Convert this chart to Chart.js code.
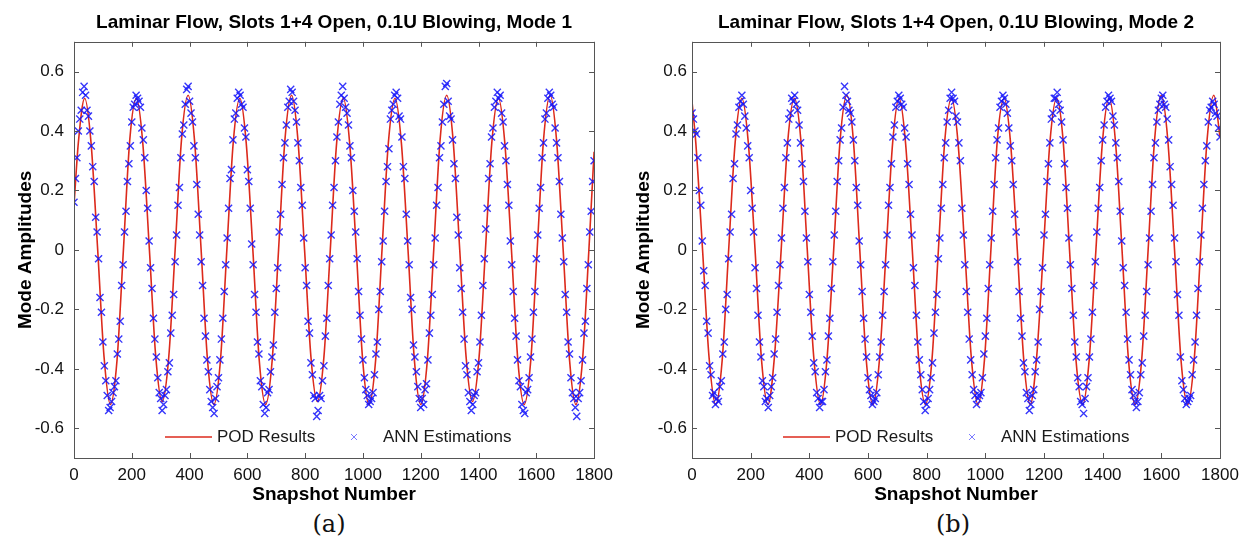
<!DOCTYPE html>
<html lang="en">
<head>
<meta charset="UTF-8">
<title>Laminar Flow, Slots 1+4 Open, 0.1U Blowing</title>
<style>
  body { margin: 0; background: #fff; }
  #wrap { position: relative; width: 1251px; height: 541px; overflow: hidden; }
  .panel { position: absolute; top: 0; height: 510px; }
  #panelA { left: 0; width: 620px; }
  #panelB { left: 620px; width: 631px; }
  .cap { position: absolute; top: 510px; line-height: 28px; font-family: "DejaVu Serif", serif; font-size: 24px; color: #111; transform: translateX(-50%); }
</style>
</head>
<body>
<div id="wrap">
  <div class="panel" id="panelA"><canvas id="chartA"></canvas></div>
  <div class="panel" id="panelB"><canvas id="chartB"></canvas></div>
  <div class="cap" style="left:329px">(a)</div>
  <div class="cap" style="left:953px">(b)</div>
</div>
<script src="https://cdn.jsdelivr.net/npm/chart.js"></script>
<script>
// axis ticks
const xTicks = [0, 200, 400, 600, 800, 1000, 1200, 1400, 1600, 1800];
const yTicks = [-0.6, -0.4, -0.2, 0, 0.2, 0.4, 0.6];
const annStep = 5; // ANN estimations read every 5th snapshot

// Mode 1 - POD result curve (snapshot, amplitude)
const podSnapA = [0, 15, 37, 59, 82, 104, 126, 149, 171, 193, 216, 238, 261, 283, 305, 328, 350, 372,
  395, 417, 440, 462, 484, 507, 529, 551, 574, 596, 619, 641, 663, 686, 708, 730,
  753, 775, 798, 820, 842, 865, 887, 909, 932, 954, 977, 999, 1021, 1044, 1066, 1088,
  1111, 1133, 1156, 1178, 1200, 1223, 1245, 1267, 1290, 1312, 1335, 1357, 1379, 1402, 1424, 1446,
  1469, 1491, 1514, 1536, 1558, 1581, 1603, 1625, 1648, 1670, 1693, 1715, 1737, 1760, 1782, 1800];
const podValA = [0.15, 0.36,
  0.51, 0.36, 0, -0.36, -0.52, -0.37, 0, 0.37,
  0.51, 0.36, 0, -0.36, -0.51, -0.36, 0, 0.37,
  0.52, 0.37, 0, -0.37, -0.52, -0.37, 0, 0.36,
  0.51, 0.36, 0, -0.37, -0.52, -0.37, 0, 0.37,
  0.52, 0.37, 0, -0.36, -0.51, -0.36, 0, 0.36,
  0.51, 0.36, 0, -0.37, -0.52, -0.37, 0, 0.36,
  0.51, 0.36, 0, -0.37, -0.52, -0.37, 0, 0.37,
  0.52, 0.37, 0, -0.36, -0.51, -0.36, 0, 0.36,
  0.51, 0.36, 0, -0.37, -0.52, -0.37, 0, 0.37,
  0.52, 0.37, 0, -0.37, -0.52, -0.37, 0, 0.33];

// Mode 1 - ANN estimations, snapshots 0, 5, 10 ... 1800
const annValA = [
  0.16, 0.24, 0.31, 0.40, 0.44, 0.47, 0.53, 0.55, 0.52, 0.47, 0.45, 0.40, 0.35, 0.28, 0.23, 0.11, 0.06, -0.03, -0.16, -0.21, -0.31, -0.39, -0.44, -0.49, -0.54, -0.53, -0.51, -0.48, -0.46, -0.44, -0.35, -0.30, -0.24, -0.12, -0.05, 0.06,
  0.13, 0.23, 0.29, 0.35, 0.43, 0.48, 0.49, 0.52, 0.51, 0.50, 0.48, 0.41, 0.37, 0.31, 0.20, 0.14, 0.03, -0.06, -0.13, -0.23, -0.30, -0.36, -0.43, -0.48, -0.50, -0.54, -0.52, -0.49, -0.47, -0.41, -0.38, -0.28, -0.22, -0.15, -0.04, 0.05,
  0.15, 0.21, 0.31, 0.39, 0.42, 0.49, 0.54, 0.55, 0.50, 0.46, 0.43, 0.35, 0.31, 0.22, 0.12, 0.05, -0.04, -0.12, -0.23, -0.29, -0.37, -0.41, -0.47, -0.51, -0.53, -0.55, -0.50, -0.46, -0.43, -0.37, -0.30, -0.23, -0.14, -0.05, 0.04, 0.14,
  0.24, 0.27, 0.37, 0.44, 0.46, 0.51, 0.53, 0.52, 0.49, 0.48, 0.41, 0.38, 0.27, 0.23, 0.14, 0.02, -0.05, -0.15, -0.21, -0.31, -0.35, -0.44, -0.46, -0.52, -0.55, -0.53, -0.48, -0.47, -0.41, -0.36, -0.32, -0.21, -0.13, -0.06, 0.06, 0.12,
  0.22, 0.31, 0.36, 0.42, 0.48, 0.50, 0.54, 0.53, 0.50, 0.47, 0.43, 0.36, 0.30, 0.21, 0.15, 0.04, -0.06, -0.12, -0.24, -0.28, -0.38, -0.42, -0.49, -0.50, -0.56, -0.54, -0.49, -0.50, -0.44, -0.39, -0.29, -0.23, -0.12, -0.03, 0.05, 0.15,
  0.21, 0.30, 0.38, 0.43, 0.49, 0.52, 0.55, 0.51, 0.48, 0.46, 0.42, 0.35, 0.31, 0.20, 0.13, 0.06, -0.03, -0.14, -0.22, -0.30, -0.37, -0.43, -0.47, -0.49, -0.52, -0.51, -0.50, -0.48, -0.42, -0.35, -0.31, -0.20, -0.14, -0.04, 0.03, 0.13,
  0.23, 0.28, 0.34, 0.44, 0.47, 0.49, 0.52, 0.53, 0.51, 0.45, 0.44, 0.38, 0.28, 0.24, 0.12, 0.03, -0.05, -0.16, -0.20, -0.32, -0.36, -0.41, -0.46, -0.50, -0.53, -0.50, -0.52, -0.47, -0.45, -0.37, -0.28, -0.22, -0.15, -0.05, 0.04, 0.15,
  0.21, 0.31, 0.35, 0.43, 0.49, 0.55, 0.56, 0.50, 0.45, 0.44, 0.37, 0.29, 0.24, 0.11, 0.05, -0.06, -0.13, -0.21, -0.30, -0.39, -0.42, -0.48, -0.51, -0.54, -0.52, -0.49, -0.48, -0.41, -0.38, -0.31, -0.22, -0.12, -0.03, 0.07, 0.14, 0.24,
  0.29, 0.38, 0.41, 0.48, 0.50, 0.53, 0.51, 0.52, 0.46, 0.43, 0.35, 0.30, 0.22, 0.15, 0.03, -0.05, -0.14, -0.23, -0.29, -0.37, -0.44, -0.46, -0.52, -0.54, -0.55, -0.48, -0.47, -0.43, -0.36, -0.30, -0.21, -0.14, -0.03, 0.05, 0.14, 0.21,
  0.31, 0.36, 0.44, 0.46, 0.51, 0.53, 0.52, 0.49, 0.48, 0.41, 0.36, 0.31, 0.23, 0.12, 0.04, -0.04, -0.15, -0.21, -0.31, -0.35, -0.43, -0.48, -0.50, -0.53, -0.56, -0.50, -0.48, -0.44, -0.37, -0.28, -0.24, -0.13, -0.05, 0.06, 0.13, 0.23,
  0.30];

// Mode 2 - POD result curve
const podSnapB = [0, 13, 36, 58, 81, 103, 125, 147, 170, 192, 215, 237, 259, 281, 304, 326, 349, 371,
  393, 415, 438, 460, 483, 505, 528, 550, 572, 594, 617, 639, 662, 684, 706, 728,
  751, 773, 796, 818, 840, 862, 885, 907, 930, 952, 975, 997, 1019, 1041, 1064, 1086,
  1109, 1131, 1153, 1175, 1198, 1220, 1243, 1265, 1287, 1309, 1332, 1354, 1377, 1399, 1422, 1444,
  1466, 1488, 1511, 1533, 1555, 1577, 1600, 1622, 1645, 1667, 1690, 1712, 1734, 1756, 1779, 1800];
const podValB = [0.50, 0.36,
  0, -0.36, -0.52, -0.37, 0, 0.36, 0.51, 0.36,
  0, -0.37, -0.52, -0.36, 0, 0.36, 0.51, 0.37,
  0, -0.36, -0.52, -0.37, 0, 0.37, 0.52, 0.37,
  0, -0.37, -0.52, -0.37, 0, 0.36, 0.51, 0.36,
  0, -0.37, -0.52, -0.37, 0, 0.37, 0.51, 0.36,
  0, -0.36, -0.52, -0.37, 0, 0.37, 0.51, 0.36,
  0, -0.37, -0.52, -0.36, 0, 0.36, 0.51, 0.37,
  0, -0.37, -0.52, -0.37, 0, 0.36, 0.51, 0.36,
  0, -0.37, -0.52, -0.37, 0, 0.37, 0.52, 0.37,
  0, -0.37, -0.52, -0.37, 0, 0.37, 0.52, 0.38];

// Mode 2 - ANN estimations, snapshots 0, 5, 10 ... 1800
const annValB = [
  0.46, 0.44, 0.40, 0.39, 0.31, 0.20, 0.15, 0.03, -0.07, -0.12, -0.24, -0.28, -0.39, -0.42, -0.49, -0.48, -0.52, -0.50, -0.51, -0.46, -0.44, -0.35, -0.31, -0.20, -0.15, -0.03, 0.06, 0.12, 0.24, 0.29, 0.39, 0.42, 0.48, 0.50, 0.52, 0.49,
  0.45, 0.41, 0.35, 0.31, 0.20, 0.14, 0.06, -0.06, -0.13, -0.22, -0.31, -0.36, -0.44, -0.46, -0.51, -0.50, -0.53, -0.49, -0.46, -0.43, -0.35, -0.30, -0.21, -0.12, -0.05, 0.04, 0.14, 0.21, 0.31, 0.36, 0.44, 0.46, 0.51, 0.50, 0.52, 0.49,
  0.47, 0.42, 0.36, 0.29, 0.23, 0.13, 0.04, -0.04, -0.15, -0.21, -0.29, -0.38, -0.41, -0.48, -0.50, -0.53, -0.51, -0.51, -0.47, -0.41, -0.37, -0.29, -0.23, -0.13, -0.04, 0.05, 0.13, 0.23, 0.30, 0.37, 0.41, 0.48, 0.55, 0.52, 0.50, 0.47,
  0.46, 0.43, 0.37, 0.30, 0.21, 0.15, 0.03, -0.05, -0.14, -0.23, -0.30, -0.36, -0.43, -0.47, -0.49, -0.52, -0.51, -0.50, -0.48, -0.42, -0.36, -0.31, -0.22, -0.14, -0.05, 0.05, 0.15, 0.21, 0.29, 0.38, 0.42, 0.48, 0.50, 0.52, 0.51, 0.49,
  0.48, 0.41, 0.38, 0.29, 0.22, 0.12, 0.05, -0.06, -0.12, -0.22, -0.31, -0.37, -0.42, -0.47, -0.51, -0.54, -0.52, -0.50, -0.47, -0.43, -0.38, -0.28, -0.21, -0.15, -0.03, 0.04, 0.14, 0.22, 0.31, 0.36, 0.43, 0.47, 0.51, 0.53, 0.51, 0.50,
  0.45, 0.43, 0.36, 0.30, 0.14, 0.05, -0.05, -0.14, -0.21, -0.30, -0.37, -0.42, -0.47, -0.49, -0.52, -0.50, -0.49, -0.48, -0.43, -0.35, -0.29, -0.23, -0.13, -0.05, 0.04, 0.13, 0.22, 0.31, 0.37, 0.41, 0.48, 0.50, 0.52, 0.51, 0.49, 0.46,
  0.41, 0.35, 0.30, 0.22, 0.12, 0.06, -0.04, -0.14, -0.23, -0.29, -0.38, -0.41, -0.48, -0.50, -0.54, -0.52, -0.49, -0.47, -0.41, -0.37, -0.31, -0.20, -0.14, -0.06, 0.05, 0.12, 0.23, 0.29, 0.36, 0.44, 0.46, 0.51, 0.51, 0.53, 0.49, 0.47,
  0.43, 0.37, 0.29, 0.21, 0.14, 0.04, -0.05, -0.13, -0.22, -0.31, -0.36, -0.43, -0.46, -0.51, -0.52, -0.55, -0.50, -0.46, -0.43, -0.36, -0.30, -0.21, -0.12, -0.04, 0.06, 0.14, 0.21, 0.30, 0.37, 0.42, 0.48, 0.50, 0.52, 0.51, 0.50, 0.45,
  0.42, 0.36, 0.31, 0.23, 0.13, 0.03, -0.06, -0.12, -0.21, -0.30, -0.37, -0.42, -0.47, -0.49, -0.51, -0.53, -0.51, -0.48, -0.42, -0.38, -0.29, -0.22, -0.14, -0.05, 0.04, 0.13, 0.22, 0.31, 0.36, 0.43, 0.47, 0.49, 0.51, 0.52, 0.49, 0.48,
  0.44, 0.37, 0.28, 0.22, 0.15, 0.04, -0.04, -0.15, -0.22, -0.36, -0.44, -0.47, -0.50, -0.52, -0.51, -0.50, -0.49, -0.42, -0.37, -0.31, -0.22, -0.13, -0.04, 0.05, 0.14, 0.22, 0.30, 0.35, 0.43, 0.47, 0.48, 0.50, 0.49, 0.46, 0.45, 0.41,
  0.38];

Chart.defaults.font.family = '"Liberation Sans", Arial, Helvetica, sans-serif';
Chart.defaults.color = '#111';

// MATLAB-like box with inward ticks, plus the legend inside the axes
const matlabAxes = {
  id: 'matlabAxes',
  afterDatasetsDraw(chart) {
    const { ctx, chartArea: a, scales: { x, y } } = chart;
    ctx.save();
    ctx.strokeStyle = '#555';
    ctx.lineWidth = 1;
    ctx.beginPath();
    xTicks.forEach(v => {
      const px = Math.round(x.getPixelForValue(v)) + 0.5;
      ctx.moveTo(px, a.bottom); ctx.lineTo(px, a.bottom - 5);
      ctx.moveTo(px, a.top); ctx.lineTo(px, a.top + 5);
    });
    yTicks.forEach(v => {
      const py = Math.round(y.getPixelForValue(v)) + 0.5;
      ctx.moveTo(a.left, py); ctx.lineTo(a.left + 5, py);
      ctx.moveTo(a.right, py); ctx.lineTo(a.right - 5, py);
    });
    ctx.stroke();
    ctx.strokeRect(Math.round(a.left) + 0.5, Math.round(a.top) + 0.5,
      Math.round(a.right - a.left), Math.round(a.bottom - a.top));
    ctx.restore();
  },
  afterDraw(chart) {
    const { ctx, chartArea: a } = chart;
    const [pod, ann] = chart.data.datasets;
    const ly = a.bottom - 21;
    ctx.save();
    ctx.font = '17px "Liberation Sans", Arial, sans-serif';
    ctx.fillStyle = '#1a1a1a';
    ctx.textBaseline = 'middle';
    ctx.strokeStyle = pod.borderColor;
    ctx.lineWidth = 1.5;
    ctx.beginPath();
    ctx.moveTo(a.left + 91, ly); ctx.lineTo(a.left + 138, ly);
    ctx.stroke();
    ctx.fillText(pod.label, a.left + 143, ly);
    const mx = a.left + 280;
    ctx.strokeStyle = 'rgba(90,90,255,0.8)';
    ctx.lineWidth = 1;
    ctx.beginPath();
    ctx.moveTo(mx - 3, ly - 3); ctx.lineTo(mx + 3, ly + 3);
    ctx.moveTo(mx + 3, ly - 3); ctx.lineTo(mx - 3, ly + 3);
    ctx.stroke();
    ctx.fillText(ann.label, a.left + 309, ly);
    ctx.restore();
  }
};

function makeChart(id, title, podSnap, podVal, annVal, cfg) {
  const podPts = podSnap.map((s, i) => ({ x: s, y: podVal[i] }));
  const annPts = annVal.map((v, i) => ({ x: i * annStep, y: v }));
  const tickFont = { size: 17 };
  const titleFont = { size: 19, weight: 'bold' };
  return new Chart(document.getElementById(id), {
    type: 'scatter',
    data: {
      datasets: [
        {
          type: 'line',
          label: 'POD Results',
          data: podPts,
          borderColor: '#dc2a1c',
          borderWidth: 1.6,
          pointRadius: 0,
          fill: false,
          cubicInterpolationMode: 'monotone',
          order: 1
        },
        {
          label: 'ANN Estimations',
          data: annPts,
          pointStyle: 'crossRot',
          pointRadius: 5,
          borderWidth: 1.4,
          borderColor: 'rgba(20,20,250,0.85)',
          backgroundColor: 'rgba(20,20,250,0.85)',
          order: 0
        }
      ]
    },
    options: {
      responsive: true,
      maintainAspectRatio: false,
      animation: false,
      events: [],
      layout: { padding: { left: 0, right: cfg.padRight, top: 0, bottom: 0 } },
      plugins: {
        legend: { display: false },
        tooltip: { enabled: false },
        title: {
          display: true,
          text: title,
          fullSize: false,
          color: '#000',
          font: titleFont,
          padding: { top: 11, bottom: 8 }
        }
      },
      scales: {
        x: {
          type: 'linear',
          min: 0,
          max: 1800,
          afterBuildTicks: s => { s.ticks = xTicks.map(v => ({ value: v })); },
          afterFit: s => { s.height = 52; },
          grid: { display: false, drawTicks: false },
          border: { display: false },
          ticks: { color: '#111', font: tickFont, padding: 7, maxRotation: 0, autoSkip: false, callback: v => String(v) },
          title: { display: true, text: 'Snapshot Number', color: '#000', font: titleFont, padding: { top: 0, bottom: 4 } }
        },
        y: {
          min: -0.7,
          max: 0.7,
          afterBuildTicks: s => { s.ticks = yTicks.map(v => ({ value: v })); },
          afterFit: s => { s.width = cfg.yWidth; },
          grid: { display: false, drawTicks: false },
          border: { display: false },
          ticks: { color: '#111', font: tickFont, padding: cfg.yTickPad, callback: v => String(v) },
          title: { display: true, text: 'Mode Amplitudes', color: '#000', font: titleFont, padding: { top: cfg.yTitlePad, bottom: 0 } }
        }
      }
    },
    plugins: [matlabAxes]
  });
}

makeChart('chartA', 'Laminar Flow, Slots 1+4 Open, 0.1U Blowing, Mode 1', podSnapA, podValA, annValA,
  { padRight: 20, yWidth: 74, yTickPad: 10, yTitlePad: 14 });
makeChart('chartB', 'Laminar Flow, Slots 1+4 Open, 0.1U Blowing, Mode 2', podSnapB, podValB, annValB,
  { padRight: 31, yWidth: 72, yTickPad: 5, yTitlePad: 12 });
</script>
</body>
</html>
